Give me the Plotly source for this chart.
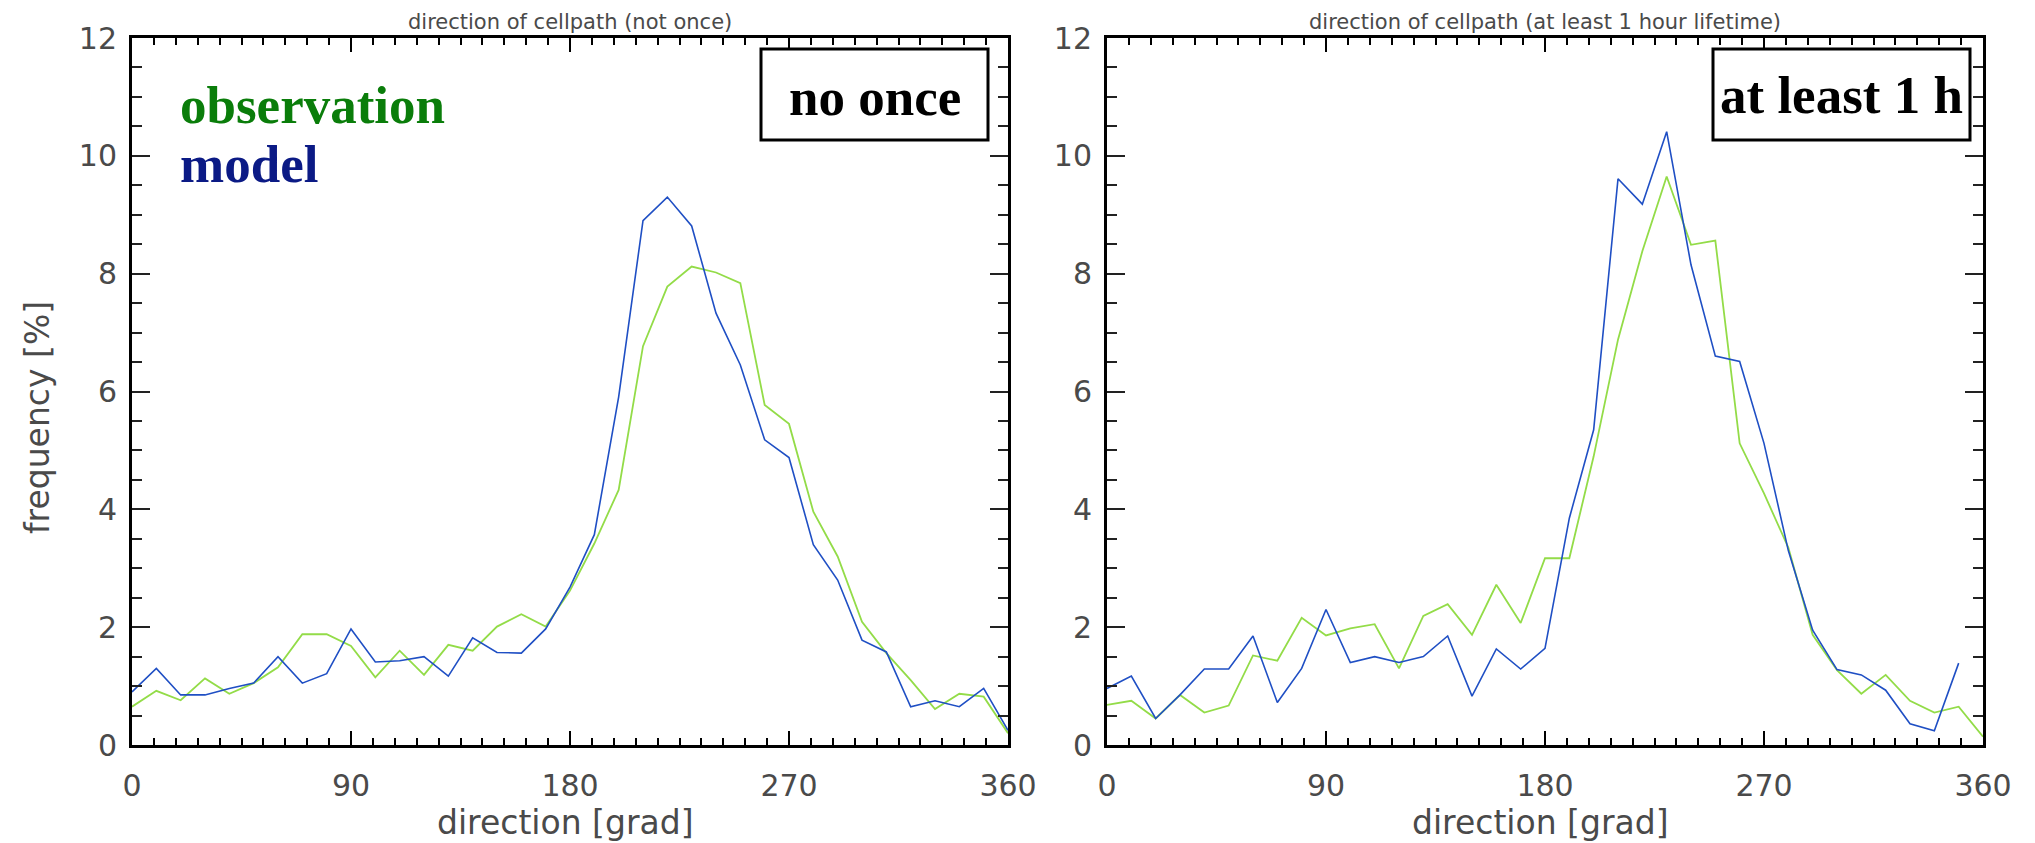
import plotly.graph_objects as go

W, H = 2035, 843
OFF = 8  # the page places the figure 8 px from the window's top-left corner

# ---------------- data ----------------
directions = [0, 10, 20, 30, 40, 50, 60, 70, 80, 90, 100, 110, 120, 130, 140, 150, 160, 170,
              180, 190, 200, 210, 220, 230, 240, 250, 260, 270, 280, 290, 300, 310, 320, 330,
              340, 350, 360]

obs_not_once = [0.65, 0.92, 0.76, 1.13, 0.87, 1.05, 1.32, 1.88, 1.88, 1.68, 1.15, 1.60, 1.19,
                1.70, 1.60, 2.01, 2.22, 2.01, 2.62, 3.42, 4.33, 6.77, 7.78, 8.12, 8.02, 7.84,
                5.77, 5.45, 3.96, 3.20, 2.09, 1.56, 1.10, 0.61, 0.87, 0.82, 0.20]
model_not_once = [0.90, 1.30, 0.85, 0.85, 0.96, 1.05, 1.50, 1.05, 1.21, 1.97, 1.41, 1.43, 1.50,
                  1.17, 1.82, 1.57, 1.56, 1.97, 2.68, 3.57, 5.91, 8.90, 9.30, 8.81, 7.33, 6.45,
                  5.18, 4.88, 3.40, 2.80, 1.78, 1.58, 0.65, 0.75, 0.65, 0.96, 0.25]

obs_1h = [0.68, 0.75, 0.45, 0.85, 0.55, 0.67, 1.52, 1.43, 2.16, 1.86, 1.98, 2.05, 1.30, 2.19,
          2.39, 1.87, 2.72, 2.07, 3.17, 3.17, 4.90, 6.88, 8.38, 9.65, 8.49, 8.56, 5.12, 4.27,
          3.35, 1.87, 1.27, 0.87, 1.19, 0.75, 0.55, 0.65, 0.14]
model_1h = [0.96, 1.17, 0.45, 0.85, 1.29, 1.29, 1.85, 0.72, 1.30, 2.30, 1.40, 1.50, 1.40, 1.50,
            1.85, 0.83, 1.63, 1.29, 1.64, 3.85, 5.35, 9.61, 9.18, 10.41, 8.15, 6.60, 6.51, 5.12,
            3.30, 1.95, 1.28, 1.19, 0.93, 0.36, 0.24, 1.39]

x_ticks = [0, 90, 180, 270, 360]
panel_titles = ["direction of cellpath (not once)", "direction of cellpath (at least 1 hour lifetime)"]
box_labels = ["no once", "at least 1 h"]
legend_labels = ["observation", "model"]
x_title = "direction [grad]"
y_title = "frequency [%]"

# ---------------- style ----------------
GREEN_LINE = "#93dc48"
BLUE_LINE = "#1f4fc4"
GREEN_TXT = "#0a7d0a"
BLUE_TXT = "#0b1a85"
AX_FONT = "DejaVu Sans"
AX_COL = "#4a4a4a"


def px_x(p):
    return (p - OFF) / W


def px_y(p):
    return 1 - (p - OFF) / H


fig = go.Figure()

fig.add_trace(go.Scatter(x=directions, y=obs_not_once, mode="lines",
                         line=dict(color=GREEN_LINE, width=1.8), xaxis="x", yaxis="y",
                         showlegend=False))
fig.add_trace(go.Scatter(x=directions, y=model_not_once, mode="lines",
                         line=dict(color=BLUE_LINE, width=1.6), xaxis="x", yaxis="y",
                         showlegend=False))
fig.add_trace(go.Scatter(x=directions, y=obs_1h, mode="lines",
                         line=dict(color=GREEN_LINE, width=1.8), xaxis="x2", yaxis="y2",
                         showlegend=False))
fig.add_trace(go.Scatter(x=directions[:len(model_1h)], y=model_1h, mode="lines",
                         line=dict(color=BLUE_LINE, width=1.6), xaxis="x2", yaxis="y2",
                         showlegend=False))


def xaxis(domain, anchor):
    return dict(domain=domain, anchor=anchor, range=[0, 360], tickmode="array",
                tickvals=x_ticks, ticktext=[str(v) for v in x_ticks], automargin=False,
                ticks="inside", ticklen=14, tickwidth=2, tickcolor="black",
                mirror="allticks", showline=True, linecolor="black", linewidth=3,
                showgrid=False, zeroline=False, ticklabelstandoff=12,
                tickfont=dict(family=AX_FONT, size=30, color=AX_COL),
                minor=dict(tick0=0, dtick=9, ticks="inside", ticklen=7, tickwidth=2,
                           tickcolor="black", showgrid=False))


def yaxis(domain, anchor):
    return dict(domain=domain, anchor=anchor, range=[0, 12], tick0=0, dtick=2,
                automargin=False,
                ticks="inside", ticklen=18, tickwidth=2, tickcolor="#222",
                mirror="allticks", showline=True, linecolor="black", linewidth=3,
                showgrid=False, zeroline=False, ticklabelstandoff=6,
                tickfont=dict(family=AX_FONT, size=30, color=AX_COL),
                minor=dict(tick0=0, dtick=0.5, ticks="inside", ticklen=10, tickwidth=2,
                           tickcolor="#222", showgrid=False))


ydom = [px_y(745), px_y(38)]
fig.update_layout(
    template="none",
    width=W, height=H,
    autosize=False,
    margin=dict(l=0, r=0, t=0, b=0, pad=0, autoexpand=False),
    paper_bgcolor="white",
    plot_bgcolor="white",
    xaxis=xaxis([px_x(132), px_x(1008)], "y"),
    yaxis=yaxis(ydom, "x"),
    xaxis2=xaxis([px_x(1107), px_x(1983)], "y2"),
    yaxis2=yaxis(ydom, "x2"),
)

shapes = [
    dict(type="rect", xref="paper", yref="paper", x0=px_x(761), x1=px_x(988),
         y0=px_y(140), y1=px_y(49), fillcolor="white", line=dict(color="black", width=3)),
    dict(type="rect", xref="paper", yref="paper", x0=px_x(1713), x1=px_x(1970),
         y0=px_y(140), y1=px_y(49), fillcolor="white", line=dict(color="black", width=3)),
]
fig.update_layout(shapes=shapes)

ann = []
small = dict(family=AX_FONT, size=21, color=AX_COL)
big = dict(family=AX_FONT, size=33, color=AX_COL)
ann.append(dict(text=panel_titles[0], x=px_x(570), y=px_y(22), font=small))
ann.append(dict(text=panel_titles[1], x=px_x(1545), y=px_y(22), font=small))
ann.append(dict(text=x_title, x=px_x(565), y=px_y(822), font=big))
ann.append(dict(text=x_title, x=px_x(1540), y=px_y(822), font=big))
ann.append(dict(text=y_title, x=px_x(37), y=px_y(418), font=big, textangle=-90))

serif = "Liberation Serif, Times New Roman, serif"
ann.append(dict(text="<b>%s</b>" % legend_labels[0], x=px_x(178), y=px_y(105), xanchor="left",
                font=dict(family=serif, size=53, color=GREEN_TXT)))
ann.append(dict(text="<b>%s</b>" % legend_labels[1], x=px_x(178), y=px_y(164), xanchor="left",
                font=dict(family=serif, size=53, color=BLUE_TXT)))
ann.append(dict(text="<b>%s</b>" % box_labels[0], x=px_x(875), y=px_y(97),
                font=dict(family=serif, size=53, color="black")))
ann.append(dict(text="<b>%s</b>" % box_labels[1], x=px_x(1841), y=px_y(95),
                font=dict(family=serif, size=53, color="black")))

for a in ann:
    a.setdefault("xref", "paper")
    a.setdefault("yref", "paper")
    a.setdefault("showarrow", False)
    a.setdefault("xanchor", "center")
    a.setdefault("yanchor", "middle")
fig.update_layout(annotations=ann)

fig.write_html("out.html")
